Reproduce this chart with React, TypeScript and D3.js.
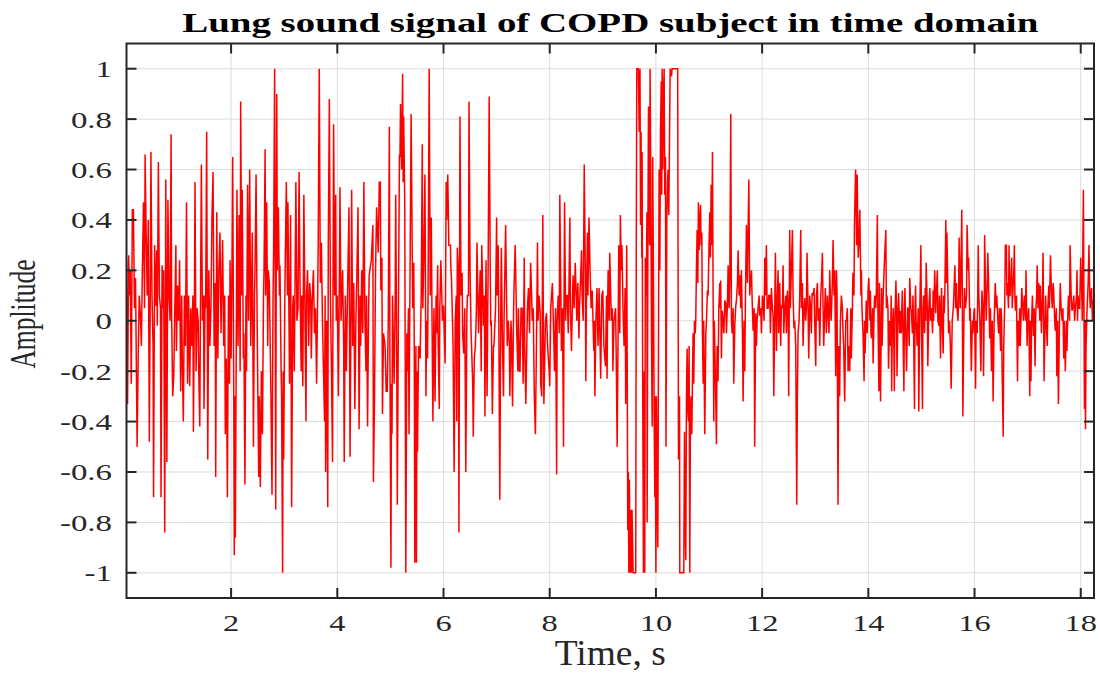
import React from "react";
import * as d3 from "d3";

// ---- Data (time in s, amplitude) ----
const sig00to02: [number, number][] = [
  [0.03,0.24],[0.05,-0.33],[0.07,0.26],[0.09,0.1],[0.1,0.2],[0.12,-0.25],[0.14,0.44],[0.16,0.44],[0.18,0.05],[0.2,0.17],[0.23,-0.5],[0.25,-0.15],[0.27,0.1],[0.29,0.03],[0.31,-0.1],[0.33,0.22],[0.35,0.47],[0.37,0.05],[0.38,0.66],[0.4,0.35],[0.42,0.1],[0.44,0.4],[0.46,-0.48],[0.48,0.2],[0.49,0.67],[0.51,0.1],[0.53,-0.1],[0.54,-0.7],[0.56,0.3],[0.58,0.06],[0.6,0.28],[0.61,-0.02],[0.63,0.63],[0.65,0.1],[0.67,0.05],[0.68,-0.7],[0.7,0.22],[0.72,0.05],[0.73,0.2],[0.75,-0.84],[0.77,0.56],[0.79,-0.56],[0.81,0.48],[0.83,0.1],[0.85,0.0],[0.87,0.74],[0.88,0.02],[0.9,-0.3],[0.92,-0.22],[0.94,0.05],[0.96,0.3],[0.97,-0.12],[0.99,0.14],[1.01,0.0],[1.03,0.24],[1.05,-0.28],[1.07,0.1],[1.08,-0.15],[1.1,-0.4],[1.12,0.1],[1.14,-0.1],[1.16,0.47],[1.18,-0.25],[1.2,0.1],[1.22,-0.26],[1.24,0.05],[1.26,-0.1],[1.28,0.1],[1.29,-0.44],[1.31,0.1],[1.32,0.55],[1.34,-0.2],[1.36,0.05],[1.38,0.0],[1.39,-0.2],[1.41,-0.42],[1.43,0.3],[1.44,0.62],[1.46,0.0],[1.48,0.1],[1.49,-0.35],[1.51,0.1],[1.52,0.05],[1.54,0.75],[1.56,-0.55],[1.58,0.2],[1.6,-0.1],[1.62,0.05],[1.64,0.42],[1.66,0.59],[1.68,-0.1],[1.7,0.15],[1.71,-0.62],[1.73,0.43],[1.75,-0.15],[1.77,0.2],[1.79,0.35],[1.81,-0.05],[1.83,0.2],[1.84,0.32],[1.86,-0.1],[1.88,0.1],[1.89,-0.45],[1.91,-0.15],[1.93,-0.7],[1.95,0.1],[1.97,-0.25],[1.98,0.24]
];

const sig02to04: [number, number][] = [
  [2.0,-0.15],[2.02,0.3],[2.03,0.65],[2.05,-0.3],[2.06,-0.93],[2.07,-0.3],[2.08,-0.86],[2.1,0.05],[2.11,0.52],[2.13,-0.1],[2.15,0.42],[2.17,-0.2],[2.18,0.87],[2.2,0.1],[2.21,0.52],[2.23,-0.15],[2.24,-0.05],[2.26,-0.65],[2.28,0.1],[2.29,-0.2],[2.31,0.54],[2.33,0.0],[2.35,0.6],[2.37,-0.1],[2.38,0.05],[2.4,0.35],[2.42,-0.5],[2.44,0.1],[2.45,0.2],[2.47,0.58],[2.49,0.0],[2.5,-0.22],[2.52,-0.62],[2.53,-0.3],[2.55,-0.66],[2.57,-0.2],[2.59,-0.45],[2.61,0.1],[2.62,0.2],[2.64,0.68],[2.65,0.1],[2.67,0.47],[2.69,-0.1],[2.7,0.2],[2.72,0.15],[2.74,-0.15],[2.75,-0.3],[2.77,-0.69],[2.79,0.1],[2.8,0.27],[2.82,1.0],[2.83,0.1],[2.84,-0.75],[2.85,0.3],[2.86,0.9],[2.87,0.2],[2.89,0.45],[2.91,0.1],[2.92,0.22],[2.94,-0.17],[2.95,-0.3],[2.97,-1.0],[2.98,-0.2],[2.99,-0.55],[3.01,0.05],[3.02,0.25],[3.04,0.55],[3.06,0.1],[3.07,0.47],[3.09,0.0],[3.1,-0.25],[3.12,0.42],[3.14,-0.74],[3.16,0.05],[3.17,0.1],[3.19,-0.2],[3.21,0.3],[3.22,0.55],[3.24,0.0],[3.26,0.05],[3.28,0.59],[3.3,0.1],[3.32,-0.2],[3.33,0.1],[3.35,-0.26],[3.37,0.5],[3.39,0.05],[3.41,-0.4],[3.42,0.1],[3.44,0.2],[3.46,-0.1],[3.48,0.15],[3.5,0.08],[3.51,-0.15],[3.53,0.1],[3.55,0.2],[3.57,-0.05],[3.59,0.05],[3.61,-0.25],[3.63,0.1],[3.64,0.3],[3.66,1.0],[3.68,0.15],[3.7,0.31],[3.72,0.0],[3.74,-0.2],[3.76,-0.4],[3.77,0.1],[3.78,-0.6],[3.8,0.0],[3.82,-0.74],[3.83,0.3],[3.85,0.88],[3.87,0.1],[3.89,-0.2],[3.91,-0.56],[3.92,0.2],[3.93,0.78],[3.95,0.1],[3.97,0.5],[3.98,0.0]
];

const sig04to06: [number, number][] = [
  [4.0,0.1],[4.02,-0.3],[4.04,0.2],[4.05,0.53],[4.07,0.0],[4.1,0.2],[4.12,-0.1],[4.13,-0.56],[4.15,0.1],[4.17,-0.2],[4.18,-0.05],[4.2,0.2],[4.22,0.45],[4.24,-0.54],[4.26,0.1],[4.27,0.52],[4.29,-0.1],[4.31,0.15],[4.33,-0.35],[4.35,0.0],[4.37,0.2],[4.39,0.45],[4.41,-0.43],[4.43,0.1],[4.44,-0.1],[4.46,0.2],[4.48,-0.05],[4.5,0.55],[4.52,0.0],[4.54,-0.2],[4.55,0.1],[4.57,-0.42],[4.59,0.05],[4.6,0.18],
  [4.64,0.24],[4.67,0.38],[4.68,-0.64],[4.7,-0.32],[4.72,0.2],[4.74,0.45],[4.77,0.27],[4.79,0.55],[4.81,0.55],[4.82,0.12],[4.84,0.25],[4.85,-0.37],[4.87,-0.05],[4.9,-0.1],[4.92,-0.28],[4.94,-0.28],[4.96,0.0],[4.98,0.77],[4.99,-0.1],[5.01,-0.98],[5.02,-0.25],[5.03,-0.45],[5.04,0.1],[5.07,-0.25],[5.09,0.1],[5.1,0.5],[5.12,-0.2],[5.13,-0.73],[5.15,0.0],[5.17,0.66],[5.18,0.65],[5.19,0.86],[5.21,0.6],[5.23,0.98],[5.24,0.55],[5.25,0.81],[5.27,0.47],[5.29,-1.0],[5.31,-0.05],[5.32,-0.2],[5.34,0.05],[5.35,-0.45],[5.37,0.2],[5.39,0.82],[5.41,0.3],[5.42,0.05],[5.44,0.23],[5.45,-0.15],[5.46,-0.96],[5.48,-0.1],[5.49,-0.96],[5.5,-0.2],[5.51,-0.52],[5.53,-0.1],[5.56,-0.15],[5.58,0.1],[5.6,0.7],[5.61,0.05],[5.63,0.25],[5.65,0.58],[5.67,-0.3],[5.68,0.0],[5.7,-0.15],[5.71,0.15],[5.73,1.0],[5.75,0.1],[5.77,0.41],[5.78,0.1],[5.8,-0.4],[5.82,0.05],[5.84,-0.32],[5.86,0.1],[5.87,-0.05],[5.89,0.22],[5.9,-0.1],[5.92,-0.35],[5.93,0.05],[5.95,0.24],[5.98,0.0]
];

const sig06to08: [number, number][] = [
  [6.0,0.06],[6.03,-0.17],[6.05,0.55],[6.06,0.4],[6.08,0.58],[6.1,0.3],[6.13,0.3],[6.14,0.2],[6.15,0.17],[6.18,-0.1],[6.2,-0.6],[6.22,0.0],[6.24,0.1],[6.25,-0.4],[6.26,0.29],[6.28,0.2],[6.29,-0.84],[6.31,0.81],[6.33,0.1],[6.35,0.19],[6.36,-0.05],[6.38,-0.13],[6.4,0.05],[6.42,-0.6],[6.44,0.03],[6.45,0.1],[6.47,0.1],[6.48,0.87],[6.5,0.2],[6.52,-0.05],[6.55,-0.25],[6.56,-0.46],[6.58,-0.15],[6.6,-0.1],[6.62,0.05],[6.63,0.31],[6.66,-0.05],[6.69,0.2],[6.71,-0.2],[6.72,0.3],[6.74,0.1],[6.75,-0.02],[6.77,0.1],[6.78,-0.38],[6.8,0.24],[6.82,-0.3],[6.84,0.2],[6.86,0.89],[6.88,0.2],[6.89,-0.02],[6.9,0.0],[6.92,-0.37],[6.94,-0.1],[6.95,-0.1],[6.98,0.05],[7.0,0.41],[7.01,0.1],[7.03,0.3],[7.04,0.05],[7.06,-0.71],[7.08,0.1],[7.09,0.29],[7.11,-0.1],[7.13,-0.3],[7.14,0.0],[7.17,0.38],[7.19,0.05],[7.2,-0.1],[7.22,0.0],[7.24,-0.1],[7.25,-0.3],[7.27,0.0],[7.28,-0.05],[7.3,-0.34],[7.32,0.05],[7.33,0.15],[7.35,0.3],[7.38,-0.05],[7.4,-0.2],[7.41,0.05],[7.43,-0.2],[7.44,-0.2],[7.46,0.05],[7.48,0.05],[7.5,-0.25],[7.52,0.25],[7.53,-0.1],[7.55,-0.33],[7.58,0.05],[7.6,0.13],[7.62,-0.05],[7.64,0.23],[7.66,0.1],[7.67,0.0],[7.69,0.05],[7.71,-0.3],[7.73,-0.45],[7.75,-0.1],[7.77,0.31],[7.78,0.0],[7.8,0.1],[7.82,0.03],[7.83,-0.25],[7.85,-0.3],[7.87,0.42],[7.88,0.0],[7.89,-0.33],[7.92,0.0],[7.94,0.03],[7.96,-0.1],[7.99,-0.2]
];

const sig08to10: [number, number][] = [
  [8.0,-0.26],[8.02,0.05],[8.05,0.15],[8.08,-0.1],[8.09,-0.2],[8.11,0.05],[8.13,-0.61],[8.14,0.0],[8.16,0.1],[8.18,-0.05],[8.19,0.5],[8.21,0.1],[8.22,-0.12],[8.24,0.05],[8.26,-0.5],[8.27,0.1],[8.28,0.47],[8.3,0.0],[8.31,0.1],[8.33,0.1],[8.35,-0.05],[8.38,0.41],[8.39,0.05],[8.41,-0.12],[8.43,0.1],[8.44,0.18],[8.46,0.05],[8.48,0.23],[8.5,0.1],[8.51,0.0],[8.53,0.15],[8.55,-0.07],[8.56,0.05],[8.6,0.28],[8.61,0.1],[8.63,0.0],[8.65,0.62],[8.67,0.2],[8.68,-0.24],[8.69,0.05],[8.71,0.35],[8.72,0.1],[8.74,0.41],[8.76,0.2],[8.78,0.05],[8.8,0.12],[8.83,-0.12],[8.84,0.0],[8.85,-0.3],[8.87,0.0],[8.89,0.13],[8.91,-0.1],[8.93,0.13],[8.94,0.0],[8.96,-0.23],[8.98,0.1],[9.0,0.12],[9.02,-0.1],[9.05,-0.18],[9.07,0.1],[9.08,-0.23],[9.09,0.05],[9.1,0.2],[9.12,0.0],[9.13,0.27],[9.15,0.1],[9.16,0.0],[9.18,0.05],[9.19,-0.2],[9.21,0.0],[9.24,0.05],[9.25,-0.1],[9.27,-0.5],[9.29,0.0],[9.3,0.3],
  [9.32,-0.05],[9.33,0.42],[9.35,0.2],[9.36,0.3],[9.38,0.05],[9.4,-0.1],[9.42,0.13],[9.425,0.0],[9.43,-0.33],[9.45,0.3],[9.46,-0.2],[9.47,-0.83],[9.48,-0.6],[9.49,-1.0],[9.5,-0.63],[9.515,-1.0],[9.53,-0.75],[9.54,-1.0],[9.55,-0.75],[9.57,-1.0],[9.62,-1.0],[9.63,0.28],[9.64,1.0],[9.67,1.0],[9.685,0.75],[9.7,1.0],[9.71,0.38],[9.72,0.75],[9.735,0.25],[9.74,0.67],[9.75,-0.2],[9.765,-1.0],[9.78,-0.2],[9.79,-1.0],[9.8,0.25],[9.82,0.1],[9.83,0.43],[9.835,-0.8],[9.85,0.4],[9.86,0.85],[9.87,0.74],[9.88,0.3],[9.89,1.0],[9.904,0.55],[9.916,-0.05],[9.93,-0.42],[9.94,0.65],[9.954,0.15],[9.967,-0.4],[9.98,-0.7],[9.985,-0.3],[10.0,-1.0]
];

const sig10to12: [number, number][] = [
  [10.01,-0.3],[10.02,-0.6],[10.036,-0.9],[10.05,0.0],[10.06,0.6],[10.074,0.2],[10.086,0.75],[10.1,0.95],[10.11,0.5],[10.117,1.0],[10.13,0.6],[10.142,0.9],[10.155,1.0],[10.167,0.5],[10.18,0.65],[10.19,-0.5],[10.205,0.4],[10.218,0.55],[10.23,0.6],[10.243,0.42],[10.255,0.7],[10.268,1.0],[10.293,0.97],[10.305,1.0],[10.41,1.0],[10.425,-0.55],[10.444,-0.3],[10.45,-1.0],[10.525,-1.0],[10.538,-0.44],[10.55,-0.8],[10.563,-0.95],[10.575,-0.3],[10.588,-0.11],[10.6,-0.35],[10.613,-0.4],[10.625,-0.1],[10.638,-1.0],[10.65,-0.35],[10.663,-0.3],[10.676,-0.45],[10.69,-0.2],[10.7,-0.05],[10.713,-0.25],[10.726,0.0],[10.74,-0.05],[10.75,0.0],[10.763,0.2],[10.776,0.36],[10.79,0.15],[10.8,0.47],[10.814,0.28],[10.826,0.4],[10.84,0.46],[10.85,0.3],[10.864,0.35],[10.876,-0.05],[10.89,-0.25],[10.9,0.0],[10.92,-0.45],[10.94,-0.05],[10.952,0.0],[10.97,0.12],[10.983,0.1],[11.0,0.3],[11.015,0.43],[11.027,0.25],[11.04,0.54],[11.052,0.3],[11.065,0.67],[11.077,0.1],[11.09,-0.4],[11.1,0.0],[11.12,-0.22],[11.14,-0.49],[11.152,-0.1],[11.17,-0.24],[11.184,0.05],[11.203,0.15],[11.215,0.05],[11.22,0.16],[11.234,-0.15],[11.247,0.04],[11.265,0.0],[11.28,-0.05],[11.297,0.08],[11.316,0.07],[11.328,-0.05],[11.347,0.07],[11.36,0.22],[11.378,0.05],[11.39,0.15],[11.41,0.82],[11.422,0.0],[11.435,-0.05],[11.454,0.05],[11.466,-0.25],[11.485,-0.02],[11.504,0.06],[11.516,0.08],[11.535,0.15],[11.548,0.28],[11.566,0.1],[11.58,0.18],[11.598,0.05],[11.61,0.2],[11.63,-0.05],[11.642,-0.32],[11.66,0.0],[11.673,-0.2],[11.686,0.1],[11.705,0.38],[11.723,0.15],[11.736,0.35],[11.75,0.56],[11.767,0.1],[11.78,0.15],[11.8,0.2],[11.81,0.1],[11.83,-0.04],[11.85,0.05],[11.86,-0.5],[11.88,0.03],[11.893,-0.1],[11.905,0.0],[11.924,0.05],[11.943,0.1],[11.955,0.02],[11.974,0.05],[11.987,-0.05]
];

const sig12to14: [number, number][] = [
  [12.006,0.1],[12.018,0.08],[12.037,0.0],[12.05,0.25],[12.062,0.1],[12.08,0.3],[12.094,0.05],[12.112,0.05],[12.125,0.1],[12.144,0.1],[12.156,-0.05],[12.175,0.13],[12.194,0.05],[12.207,0.02],[12.22,-0.3],[12.238,0.05],[12.25,0.27],[12.27,-0.12],[12.288,0.1],[12.3,0.2],[12.313,-0.05],[12.332,0.15],[12.35,-0.1],[12.363,0.06],[12.382,0.05],[12.395,0.22],[12.407,-0.05],[12.426,0.05],[12.445,0.1],[12.457,-0.05],[12.476,0.12],[12.49,0.05],[12.5,-0.3],[12.52,0.36],[12.533,0.05],[12.55,0.2],[12.57,0.36],[12.583,0.1],[12.6,-0.03],[12.614,0.0],[12.633,-0.1],[12.652,-0.73],[12.664,-0.3],[12.677,-0.05],[12.696,0.0],[12.708,0.1],[12.727,0.36],[12.74,0.05],[12.759,0.15],[12.771,-0.1],[12.79,0.05],[12.803,0.09],[12.82,0.0],[12.834,0.05],[12.846,0.27],[12.865,0.05],[12.878,-0.15],[12.897,0.1],[12.91,0.05],[12.928,-0.05],[12.94,0.11],[12.96,0.1],[12.978,0.13],[12.99,0.0],[13.01,-0.18],[13.022,0.1],[13.041,0.15],[13.053,0.0],[13.072,0.05],[13.085,-0.1],[13.104,0.1],[13.116,0.15],[13.135,0.27],[13.148,0.05],[13.16,-0.1],[13.18,0.05],[13.191,0.13],[13.21,-0.05],[13.23,0.1],[13.24,0.05],[13.26,-0.05],[13.273,0.2],[13.29,0.05],[13.3,0.0],[13.323,0.15],[13.336,0.32],[13.355,0.1],[13.367,0.2],[13.386,-0.22],[13.4,0.2],[13.41,0.12],[13.43,-0.73],[13.443,-0.1],[13.46,-0.3],[13.474,0.0],[13.493,0.1],[13.511,0.05],[13.524,-0.05],[13.536,-0.1],[13.555,-0.32],[13.574,0.0],[13.587,0.0],[13.605,0.05],[13.618,-0.2],[13.637,-0.1],
  [13.65,-0.2],[13.67,0.05],[13.68,-0.15],[13.7,0.05],[13.71,0.19],[13.73,0.1],[13.74,0.4],[13.76,0.6],[13.78,0.3],[13.79,0.58],[13.81,0.25],[13.83,0.35],[13.84,0.44],[13.86,0.1],[13.87,0.2],[13.88,0.05],[13.9,-0.05],[13.92,-0.24],[13.93,0.0],[13.94,-0.13],[13.96,0.08],[13.98,-0.05],[13.995,0.12]
];

const sig14to16: [number, number][] = [
  [14.01,0.17],[14.03,0.0],[14.04,0.12],[14.05,-0.05],[14.06,-0.07],[14.08,0.05],[14.09,-0.17],[14.11,0.05],[14.12,0.1],[14.14,0.05],[14.15,0.1],[14.17,0.42],[14.18,0.05],[14.2,-0.28],[14.21,0.15],[14.23,-0.32],[14.25,0.13],[14.26,-0.1],[14.28,0.1],[14.29,0.16],[14.31,0.27],[14.33,0.36],[14.34,0.05],[14.35,0.1],[14.37,0.05],[14.38,-0.19],[14.4,0.0],[14.42,-0.1],[14.43,0.1],[14.44,-0.28],[14.45,-0.05],[14.47,0.05],[14.48,-0.1],[14.49,-0.28],[14.5,0.0],[14.52,0.16],[14.53,0.05],[14.54,-0.22],[14.56,0.05],[14.57,0.11],[14.59,-0.05],[14.6,0.04],[14.62,-0.05],[14.64,0.12],[14.65,0.0],[14.67,-0.28],[14.68,0.05],[14.69,0.13],[14.7,0.0],[14.72,-0.2],[14.74,0.05],[14.75,0.05],[14.77,-0.1],[14.78,0.17],[14.8,0.05],[14.81,0.04],[14.83,-0.05],[14.84,0.1],[14.85,0.0],[14.87,-0.35],[14.88,0.05],[14.89,0.14],[14.9,0.0],[14.92,-0.1],[14.94,0.05],[14.95,-0.36],[14.97,0.05],[14.99,0.3],[15.0,0.0],[15.02,-0.35],[15.03,0.05],[15.04,0.1],[15.06,-0.05],[15.07,0.13],[15.08,0.0],[15.09,0.23],[15.11,0.05],[15.12,-0.18],[15.14,0.05],[15.16,0.13],[15.17,0.0],[15.19,0.05],[15.21,-0.05],[15.22,0.12],[15.23,0.0],[15.25,0.2],[15.27,0.03],[15.28,0.1],[15.3,0.2],[15.31,0.0],[15.33,-0.02],[15.34,0.1],[15.36,-0.15],[15.37,0.05],[15.38,0.13],[15.39,0.0],[15.41,-0.13],[15.42,0.1],[15.43,0.03],[15.44,0.1],[15.46,0.4],[15.47,0.15],[15.48,0.35],[15.5,0.1],[15.51,-0.05],[15.53,0.0],[15.545,-0.1],[15.56,-0.27],[15.58,0.0],[15.6,0.05],[15.61,0.1],[15.63,0.22],[15.645,0.05],[15.66,0.15],[15.67,0.05],[15.69,0.0],[15.7,0.1],[15.71,0.33],[15.73,0.05],[15.74,0.15],[15.76,0.44],[15.77,0.1],[15.78,-0.38],[15.8,0.0],[15.81,0.13],[15.83,0.05],[15.85,0.1],[15.86,0.38],[15.88,0.2],[15.89,0.25],[15.91,0.0],[15.92,0.05],[15.94,-0.2],[15.96,0.0],[15.97,-0.05],[15.99,0.04]
];

const sig16to18: [number, number][] = [
  [16.0,0.05],[16.02,-0.27],[16.03,0.0],[16.05,-0.05],[16.06,0.1],[16.07,0.3],[16.08,0.1],[16.1,0.0],[16.12,-0.2],[16.13,0.0],[16.14,0.12],[16.16,0.05],[16.17,-0.22],[16.185,0.1],[16.19,0.34],[16.21,0.1],[16.22,0.0],[16.24,0.15],[16.25,0.27],[16.27,0.1],[16.285,-0.07],[16.3,0.05],[16.32,-0.2],[16.335,0.0],[16.35,-0.32],[16.37,0.0],[16.39,0.15],[16.41,0.05],[16.42,0.1],[16.44,0.0],[16.455,-0.05],[16.47,0.05],[16.49,-0.12],[16.5,0.05],[16.51,0.0],[16.52,-0.2],[16.54,-0.46],[16.55,-0.1],[16.57,0.08],[16.58,0.3],[16.6,0.3],[16.61,0.1],[16.62,0.15],[16.64,0.05],[16.65,0.3],[16.66,0.1],[16.67,0.1],[16.69,0.2],[16.7,0.25],[16.71,0.05],[16.72,0.1],[16.74,0.2],[16.75,0.3],[16.76,0.1],[16.77,0.04],[16.79,0.1],[16.81,-0.24],[16.82,0.0],[16.84,-0.1],[16.85,0.05],[16.86,-0.1],[16.875,0.0],[16.89,0.13],[16.91,0.05],[16.92,0.0],[16.93,0.05],[16.94,0.1],[16.96,0.0],[16.97,0.2],[16.98,0.05],[16.99,-0.1],[17.0,0.0],[17.02,0.05],[17.03,-0.1],[17.04,-0.3],[17.05,0.0],[17.063,-0.24],[17.075,0.0],[17.09,0.1],[17.1,0.0],[17.11,-0.06],[17.125,0.05],[17.14,-0.18],[17.15,0.0],[17.16,0.06],[17.17,0.1],[17.18,0.22],[17.195,0.05],[17.21,0.15],[17.23,0.0],[17.24,0.14],[17.25,0.05],[17.26,-0.05],[17.28,0.1],[17.29,0.27],[17.3,0.05],[17.31,-0.24],[17.33,0.0],[17.34,0.1],[17.35,0.0],[17.37,-0.1],[17.38,0.05],[17.4,0.14],[17.41,0.05],[17.43,0.26],[17.45,0.1],[17.465,0.05],[17.48,0.15],[17.49,0.12],[17.51,0.0],[17.52,-0.04],[17.54,0.05],[17.55,-0.22],[17.565,0.0],[17.58,-0.33],[17.6,0.0],[17.615,0.15],[17.63,0.05],[17.65,0.0],[17.665,0.05],[17.68,-0.15],[17.69,0.0],[17.71,-0.2],[17.73,0.0],[17.74,-0.12],[17.76,0.05],[17.77,0.1],[17.79,0.0],[17.8,0.3],[17.82,0.1],[17.835,0.04],[17.85,0.05],[17.87,0.1],[17.885,0.0],[17.9,0.05],[17.92,0.1],[17.93,0.2],[17.94,0.0],[17.95,0.1],[17.97,0.05],[17.98,0.05],[17.99,0.15],[18.0,0.25],[18.02,0.1],[18.03,0.0],[18.04,0.3],[18.05,0.52],[18.06,0.1],[18.07,-0.35],[18.086,0.0],[18.09,-0.43],[18.1,-0.1],[18.12,0.05],[18.14,0.15],[18.155,0.3],[18.17,0.1],[18.18,0.05],[18.19,0.1],[18.205,0.13],[18.22,0.0],[18.23,0.08],[18.24,0.05]
];

const xTicks = [2, 4, 6, 8, 10, 12, 14, 16, 18];
const xTickLabels = ["2", "4", "6", "8", "10", "12", "14", "16", "18"];
const yTicks = [-1, -0.8, -0.6, -0.4, -0.2, 0, 0.2, 0.4, 0.6, 0.8, 1];
const yTickLabels = ["-1", "-0.8", "-0.6", "-0.4", "-0.2", "0", "0.2", "0.4", "0.6", "0.8", "1"];
const titleText = "Lung sound signal of COPD subject in time domain";
const xLabel = "Time, s";
const yLabel = "Amplitude";

const signal = [
  ...sig00to02, ...sig02to04, ...sig04to06, ...sig06to08, ...sig08to10,
  ...sig10to12, ...sig12to14, ...sig14to16, ...sig16to18,
];

const W = 1100;
const H = 673;
const L = 126.5, R = 1094, T = 43.5, B = 598;
const AX = "#262626";
const SERIF = "'Liberation Serif', 'Times New Roman', Times, serif";

export default function App() {
  const x = d3.scaleLinear().domain([0.03, 18.25]).range([L, R]);
  const y = d3.scaleLinear().domain([-1.1, 1.1]).range([B, T]);
  const line = d3.line<[number, number]>().x((d) => x(d[0])).y((d) => y(d[1]));
  const tickLen = 10;

  return (
    <svg width={W} height={H} style={{ position: "absolute", left: 0, top: 0, display: "block", background: "#fff" }}>
      <rect x={0} y={0} width={W} height={H} fill="#fff" />
      <defs>
        <clipPath id="plotclip">
          <rect x={L} y={T} width={R - L} height={B - T} />
        </clipPath>
      </defs>
      {/* grid */}
      <g stroke="#dcdcdc" strokeWidth={1}>
        {xTicks.map((t) => (
          <line key={"gx" + t} x1={x(t)} x2={x(t)} y1={T} y2={B} />
        ))}
        {yTicks.map((t) => (
          <line key={"gy" + t} x1={L} x2={R} y1={y(t)} y2={y(t)} />
        ))}
      </g>
      {/* signal */}
      <path
        d={line(signal) || ""}
        fill="none"
        stroke="#ff0000"
        strokeWidth={1.5}
        strokeLinejoin="miter"
        strokeMiterlimit={2}
        clipPath="url(#plotclip)"
      />
      {/* ticks */}
      <g stroke={AX} strokeWidth={2}>
        {xTicks.map((t) => (
          <g key={"tx" + t}>
            <line x1={x(t)} x2={x(t)} y1={B} y2={B - tickLen} />
            <line x1={x(t)} x2={x(t)} y1={T} y2={T + tickLen} />
          </g>
        ))}
        {yTicks.map((t) => (
          <g key={"ty" + t}>
            <line x1={L} x2={L + tickLen} y1={y(t)} y2={y(t)} />
            <line x1={R} x2={R - tickLen} y1={y(t)} y2={y(t)} />
          </g>
        ))}
      </g>
      {/* box */}
      <rect x={L} y={T} width={R - L} height={B - T} fill="none" stroke={AX} strokeWidth={2} />
      {/* tick labels */}
      <g fill={AX} fontFamily={SERIF} fontSize={23.5}>
        {xTicks.map((t, i) => (
          <text key={"lx" + t} transform={`translate(${x(t)},${631}) scale(1.38,1)`} textAnchor="middle">
            {xTickLabels[i]}
          </text>
        ))}
        {yTicks.map((t, i) => (
          <text key={"ly" + t} transform={`translate(${112},${y(t) + 8.4}) scale(1.4,1)`} textAnchor="end">
            {yTickLabels[i]}
          </text>
        ))}
      </g>
      {/* axis labels */}
      <text
        transform={`translate(${(L + R) / 2},665) scale(1.07,1)`}
        textAnchor="middle"
        fontFamily={SERIF}
        fontSize={35}
        fill={AX}
      >
        {xLabel}
      </text>
      <text
        transform={`translate(35,314) rotate(-90) scale(0.73,1)`}
        textAnchor="middle"
        fontFamily={SERIF}
        fontSize={35}
        fill={AX}
      >
        {yLabel}
      </text>
      {/* title */}
      <text
        transform={`translate(${(L + R) / 2},32) scale(1.39,1)`}
        textAnchor="middle"
        fontFamily={SERIF}
        fontWeight="bold"
        fontSize={28}
        fill="#000"
      >
        {titleText}
      </text>
    </svg>
  );
}
